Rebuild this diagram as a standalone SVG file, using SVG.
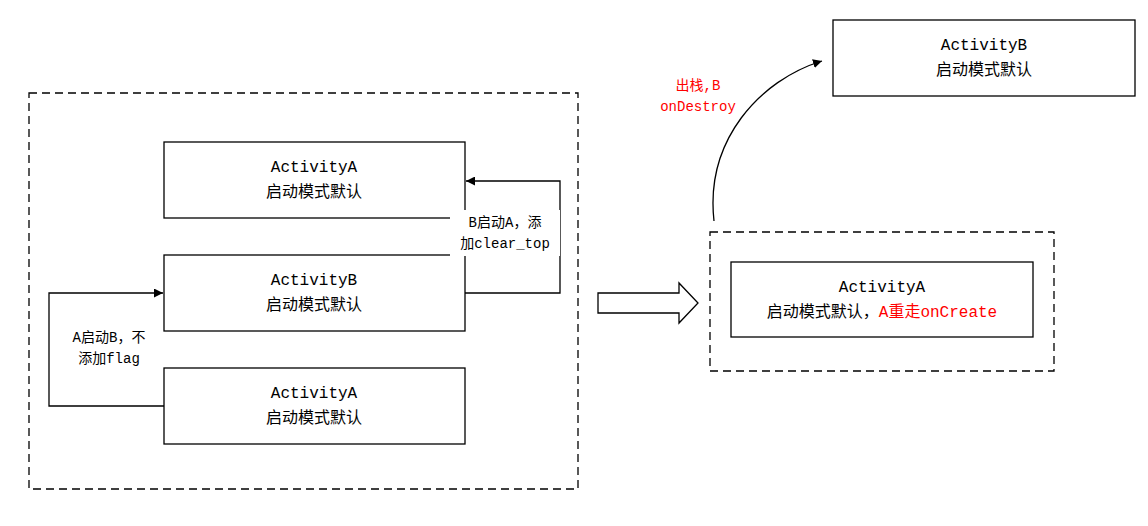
<svg xmlns="http://www.w3.org/2000/svg" width="1148" height="526" viewBox="0 0 1148 526">
<style>
.b{fill:#fff;stroke:#000;stroke-width:1.3}
.d{fill:none;stroke:#000;stroke-width:1.3;stroke-dasharray:8 5}
.c{fill:none;stroke:#000;stroke-width:1.3}
text{font-family:"Liberation Mono","Noto Sans CJK SC",monospace;font-size:16px;text-anchor:middle}
.s{font-size:14px}
.r{fill:#f00}
</style>
<defs><marker id="a" viewBox="0 0 10 10" refX="10" refY="5" markerWidth="9" markerHeight="9" markerUnits="userSpaceOnUse" orient="auto"><path d="M0,0L10,5L0,10z"/></marker></defs>
<rect class="d" x="29" y="93" width="549" height="396"/>
<rect class="d" x="710" y="232" width="344" height="139"/>
<g id="n1"><rect class="b" x="164" y="142" width="301" height="76"/><text x="314" y="172">ActivityA</text><text x="314" y="197">启动模式默认</text></g>
<g id="n2"><rect class="b" x="164" y="255" width="301" height="76"/><text x="314" y="285">ActivityB</text><text x="314" y="310">启动模式默认</text></g>
<g id="n3"><rect class="b" x="164" y="368" width="301" height="76"/><text x="314" y="398">ActivityA</text><text x="314" y="423">启动模式默认</text></g>
<g id="n4"><rect class="b" x="731" y="262" width="302" height="75"/><text x="882" y="292">ActivityA</text><text x="882" y="317">启动模式默认，<tspan class="r">A重走onCreate</tspan></text></g>
<g id="n5"><rect class="b" x="833" y="20" width="302" height="76"/><text x="984" y="50">ActivityB</text><text x="984" y="75">启动模式默认</text></g>
<g id="arrow"><path class="b" d="M598,293H679V283L698,303L679,323V313H598z"/></g>
<g id="connectors">
<path class="c" d="M465,293H560V181H466" marker-end="url(#a)"/>
<path class="c" d="M164,406H49V293H163" marker-end="url(#a)"/>
<path class="c" d="M714,221C705,140 760,80 822,61" marker-end="url(#a)"/>
</g>
<g id="labels">
<rect x="450" y="210" width="110" height="46" fill="#fff"/>
<text class="s" x="505" y="227">B启动A，添</text><text class="s" x="505" y="248">加clear_top</text>
<rect x="55" y="325" width="100" height="46" fill="#fff"/>
<text class="s" x="109" y="342">A启动B，不</text><text class="s" x="109" y="363">添加flag</text>
<text class="s r" x="698" y="90">出栈,B</text><text class="s r" x="698" y="111">onDestroy</text>
</g>
</svg>
